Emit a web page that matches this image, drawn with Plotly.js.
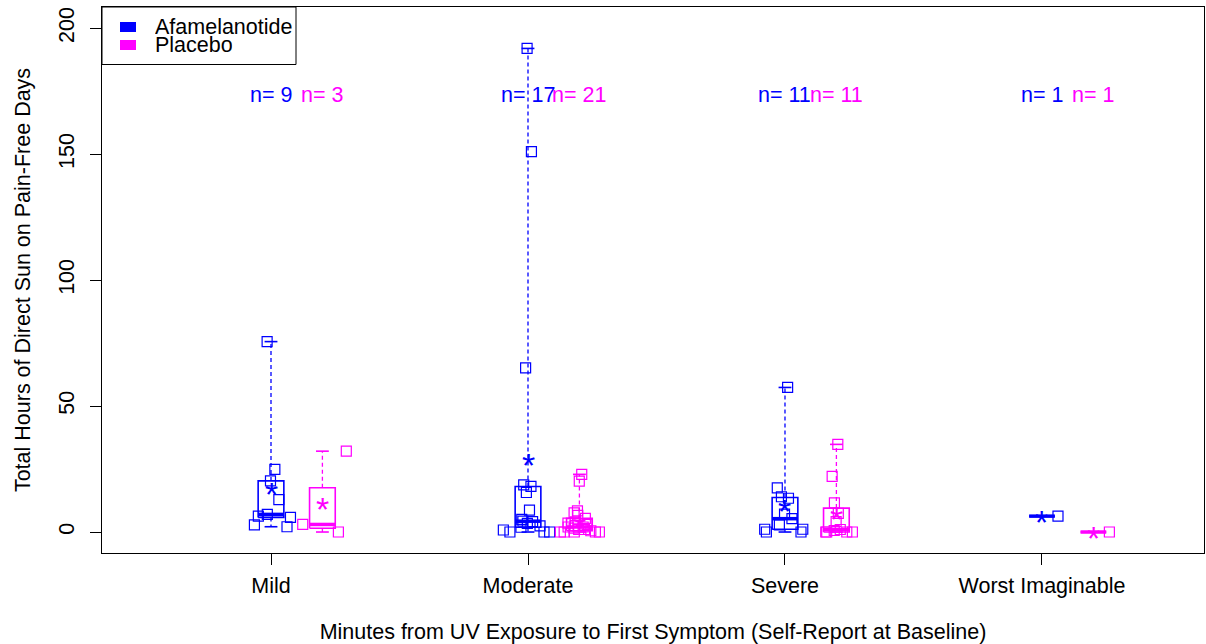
<!DOCTYPE html>
<html>
<head>
<meta charset="utf-8">
<script src="https://cdn.plot.ly/plotly-3.0.1.min.js"></script>
<style>
  html, body { margin: 0; padding: 0; background: #ffffff; }
  #chart { width: 1206px; height: 644px; }
</style>
</head>
<body>
<div id="chart"></div>
<script>
// Severity of first symptom after UV exposure (baseline self-report)
const categories = ['Mild', 'Moderate', 'Severe', 'Worst Imaginable'];
const treatments = ['Afamelanotide', 'Placebo'];

// Total hours of direct sun on pain-free days, one value per patient
const afamelanotide = [
  [2.1, 2.8, 5.8, 6.3, 7.0, 12.9, 20.3, 24.9, 75.6],
  [0, 0, 0, 0.8, 1.9, 2.4, 3.4, 4.1, 4.3, 5.0, 8.7, 15.7, 18.1, 18.7, 65.2, 151, 192],
  [0, 0, 1.1, 1.1, 2.8, 5.3, 7.1, 13.4, 14.0, 17.5, 57.4],
  [6.3]
];
const placebo = [
  [0, 3.0, 32.1],
  [0, 0, 0, 0, 0, 0.5, 1, 1, 1.5, 2, 2, 2.5, 3, 3.5, 4, 5.4, 6.6, 7.6, 8.4, 20.2, 22.9],
  [0, 0, 0, 0, 0.6, 1.0, 4.1, 7.4, 11.6, 22.1, 34.8],
  [0]
];

const seriesValues = [afamelanotide, placebo];
const colors = ['#0000ff', '#ff00ff'];
const FONT = 'Liberation Sans, Arial, sans-serif';
const FS = 21.5;
const OFFSET = 0.2;   // placebo box sits to the right of the treated box
const BOXW = 0.1;     // box width in x units
const NLABEL_Y = 173.5;

// Tukey five-number summary (min, lower hinge, median, upper hinge, max)
function fivenum(values) {
  const x = values.slice().sort((a, b) => a - b);
  const n = x.length;
  const n4 = Math.floor((n + 3) / 2) / 2;
  const d = [1, n4, (n + 1) / 2, n + 1 - n4, n];
  return d.map(di => 0.5 * (x[Math.floor(di) - 1] + x[Math.ceil(di) - 1]));
}
const mean = v => v.reduce((s, a) => s + a, 0) / v.length;

const traces = [];
const annotations = [];

seriesValues.forEach((groups, k) => {
  const col = colors[k];
  const boxX = [], boxY = [], medX = [], medY = [], whX = [], whY = [];

  groups.forEach((vals, g) => {
    const pos = g + 1 + k * OFFSET;
    const [lo, q1, med, q3, hi] = fivenum(vals);
    const l = pos - BOXW / 2, r = pos + BOXW / 2;
    const cl = pos - BOXW / 4, cr = pos + BOXW / 4;

    // box outline plus whisker caps
    boxX.push(l, r, r, l, l, null, cl, cr, null, cl, cr, null);
    boxY.push(q1, q1, q3, q3, q1, null, hi, hi, null, lo, lo, null);
    medX.push(l, r, null);
    medY.push(med, med, null);
    whX.push(pos, pos, null, pos, pos, null);
    whY.push(q3, hi, null, q1, lo, null);

    // jittered individual patients
    traces.push({
      type: 'box', y: vals, x0: pos, width: 0.24,
      boxpoints: 'all', jitter: 1, pointpos: 0,
      fillcolor: 'rgba(0,0,0,0)',
      line: { width: 0, color: 'rgba(0,0,0,0)' },
      marker: { symbol: 'square-open', size: 10, color: col, line: { width: 1.2, color: col } },
      showlegend: false, hoverinfo: 'skip'
    });

    // group mean
    annotations.push({
      x: pos, y: mean(vals), xref: 'x', yref: 'y', text: '*', showarrow: false,
      font: { family: FONT, size: 34, color: col }, yshift: -6
    });

    // group size
    annotations.push({
      x: pos, y: NLABEL_Y, xref: 'x', yref: 'y', text: 'n= ' + vals.length, showarrow: false,
      font: { family: FONT, size: FS, color: col }
    });
  });

  traces.push({ type: 'scatter', mode: 'lines', x: whX, y: whY, showlegend: false, hoverinfo: 'skip',
    line: { color: col, width: 1.3, dash: '4px,3px' } });
  traces.push({ type: 'scatter', mode: 'lines', x: boxX, y: boxY, showlegend: false, hoverinfo: 'skip',
    line: { color: col, width: 1.6 } });
  traces.push({ type: 'scatter', mode: 'lines', x: medX, y: medY, showlegend: false, hoverinfo: 'skip',
    line: { color: col, width: 3.5 } });
});

// legend drawn as a framed key in the top-left corner
const shapes = [{
  type: 'rect', xref: 'paper', yref: 'paper', xsizemode: 'pixel', ysizemode: 'pixel',
  xanchor: 0, yanchor: 1, x0: 0, x1: 194, y0: 0, y1: -57.5,
  line: { color: '#000000', width: 1 }, fillcolor: '#ffffff', layer: 'above'
}];
treatments.forEach((name, k) => {
  const top = 15 + k * 18;
  shapes.push({
    type: 'rect', xref: 'paper', yref: 'paper', xsizemode: 'pixel', ysizemode: 'pixel',
    xanchor: 0, yanchor: 1, x0: 18, x1: 34, y0: -top, y1: -(top + 10),
    line: { width: 0 }, fillcolor: colors[k], layer: 'above'
  });
  annotations.push({
    xref: 'paper', yref: 'paper', x: 0, y: 1, xanchor: 'left', yanchor: 'middle',
    xshift: 51, yshift: -(top + 5), text: name, showarrow: false, height: 22,
    font: { family: FONT, size: FS, color: '#000000' }
  });
});

const layout = {
  width: 1206, height: 644,
  margin: { l: 102, r: 2, t: 7, b: 91 },
  paper_bgcolor: '#ffffff', plot_bgcolor: '#ffffff',
  font: { family: FONT, size: FS, color: '#000000' },
  showlegend: false,
  xaxis: {
    range: [0.3424, 4.6304],
    tickmode: 'array', tickvals: [1, 2, 3, 4], ticktext: categories,
    ticks: 'outside', ticklen: 11, tickwidth: 1, tickcolor: '#000000',
    ticklabelstandoff: 2,
    showline: true, mirror: true, linecolor: '#000000', linewidth: 1,
    showgrid: false, zeroline: false,
    tickfont: { family: FONT, size: FS },
    title: { text: 'Minutes from UV Exposure to First Symptom (Self-Report at Baseline)',
             font: { family: FONT, size: FS }, standoff: 27 }
  },
  yaxis: {
    range: [-8.33, 208.45],
    tickmode: 'array', tickvals: [0, 50, 100, 150, 200],
    tickangle: -90,
    ticks: 'outside', ticklen: 11, tickwidth: 1, tickcolor: '#000000',
    ticklabelstandoff: 7,
    showline: true, mirror: true, linecolor: '#000000', linewidth: 1,
    showgrid: false, zeroline: false,
    tickfont: { family: FONT, size: FS },
    title: { text: 'Total Hours of Direct Sun on Pain-Free Days',
             font: { family: FONT, size: FS }, standoff: 18 }
  },
  shapes: shapes,
  annotations: annotations
};

Plotly.newPlot('chart', traces, layout, { displayModeBar: false, staticPlot: true });
</script>
</body>
</html>
